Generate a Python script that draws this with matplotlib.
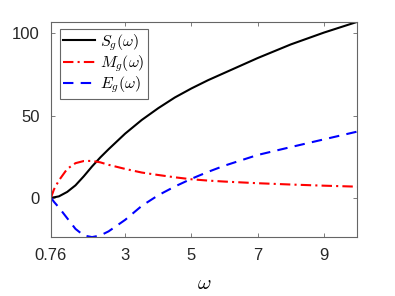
import numpy as np
import matplotlib
matplotlib.use("Agg")
import matplotlib.pyplot as plt

plt.rcParams['font.family'] = ['Liberation Sans', 'DejaVu Sans']
plt.rcParams['mathtext.fontset'] = 'cm'

# Valores
w = [0.76, 0.85, 1.0, 1.25, 1.5, 1.75, 2.0, 2.25, 2.5, 3.0, 3.5, 4.0,
     4.5, 5.0, 5.5, 6.0, 7.0, 8.0, 9.0, 10.0]
S = [0.0, 0.2, 0.8, 3.5, 7.5, 13.0, 19.0, 24.5, 29.5, 39.0, 47.3, 54.5,
     61.0, 66.5, 71.5, 76.0, 85.0, 93.3, 100.5, 107.0]
M = [0.0, 5.0, 10.5, 17.5, 21.0, 22.3, 22.4, 21.5, 20.0, 17.5, 15.3, 13.8,
     12.4, 11.2, 10.4, 9.8, 8.8, 8.0, 7.3, 6.7]
E = [0.0, -2.5, -6.0, -12.5, -19.0, -23.0, -24.0, -23.0, -20.5, -13.5, -5.0, 1.5,
     6.8, 11.5, 15.7, 19.5, 26.0, 30.8, 35.5, 40.2]

xticks = [0.76, 3, 5, 7, 9]
xtick_labels = ['0.76', '3', '5', '7', '9']
yticks = [0, 50, 100]

fig = plt.figure(figsize=(3.95, 2.96), dpi=100)
ax = fig.add_axes([0.129, 0.199, 0.775, 0.727])

ax.plot(w, S, color='black', lw=1.5, ls='-', label=r'$S_g(\omega)$')
ax.plot(w, M, color='red', lw=1.5, ls=(0, (5, 2, 1, 2)), label=r'$M_g(\omega)$')
ax.plot(w, E, color='blue', lw=1.5, ls=(0, (5, 3.5)), label=r'$E_g(\omega)$')

ax.set_xlim(0.76, 10)
ax.set_ylim(-24, 107)
ax.set_xticks(xticks)
ax.set_xticklabels(xtick_labels)
ax.set_yticks(yticks)

gris = '#666666'
for s in ax.spines.values():
    s.set_color(gris)
    s.set_linewidth(0.8)
ax.tick_params(direction='in', length=3, width=0.6, color=gris,
               labelsize=12, labelcolor='#262626', pad=8)
ax.tick_params(axis='x', top=True)
ax.tick_params(axis='y', right=True)

ax.set_xlabel(r'$\omega$', fontsize=15, labelpad=8)

leg = ax.legend(loc='upper left', fontsize=11.5, handlelength=2.0,
                fancybox=False, framealpha=1, edgecolor=gris,
                borderpad=0.2, labelspacing=0.05, handletextpad=0.3,
                borderaxespad=0.0, bbox_to_anchor=(0.029, 0.968))
leg.get_frame().set_linewidth(0.8)

fig.savefig('out.png', dpi=100)
